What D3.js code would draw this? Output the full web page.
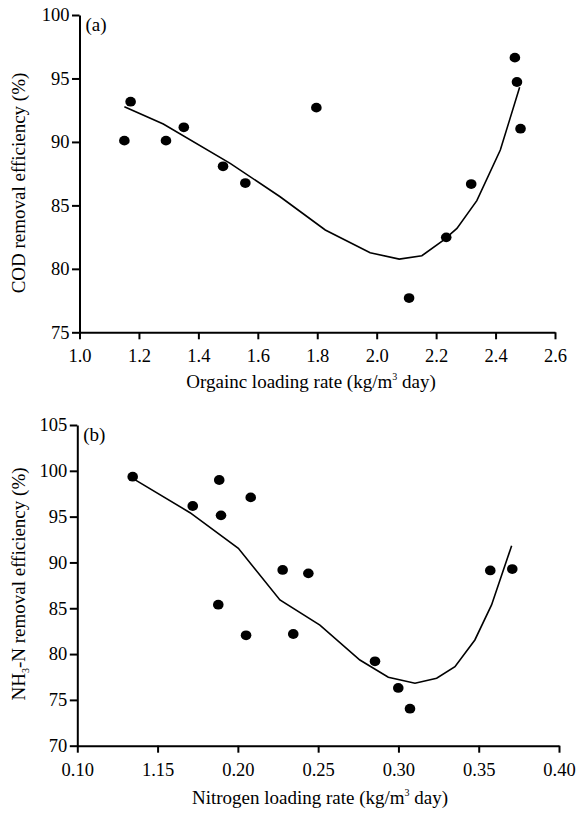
<!DOCTYPE html>
<html>
<head>
<meta charset="utf-8">
<script src="https://cdn.jsdelivr.net/npm/d3@7"></script>
<style>
  body { margin: 0; background: #fff; }
  .axis path, .axis line { stroke: #000; stroke-width: 2; }
</style>
</head>
<body>
<div id="chart"></div>
<script>
// panel (a): COD
const codX = [1.151, 1.172, 1.291, 1.351, 1.483, 1.558, 1.797, 2.109, 2.234, 2.318, 2.465, 2.472, 2.484];
const codY = [90.1, 93.17, 90.1, 91.15, 88.08, 86.76, 92.7, 77.7, 82.48, 86.68, 96.64, 94.72, 91.04];
const codFitX = [1.151, 1.282, 1.507, 1.675, 1.827, 1.978, 2.076, 2.152, 2.225, 2.27, 2.337, 2.416, 2.481];
const codFitY = [92.77, 91.41, 88.31, 85.68, 83.06, 81.27, 80.77, 81.03, 82.27, 83.19, 85.37, 89.36, 94.3];
const codXTicks = [1.0, 1.2, 1.4, 1.6, 1.8, 2.0, 2.2, 2.4, 2.6];
const codXTickLabels = ['1.0', '1.2', '1.4', '1.6', '1.8', '2.0', '2.2', '2.4', '2.6'];
const codYTicks = [75, 80, 85, 90, 95, 100];

// panel (b): NH3-N
const nhX = [0.1345, 0.1719, 0.1878, 0.1884, 0.1895, 0.208, 0.2051, 0.2279, 0.2345, 0.2439, 0.2854, 0.2999, 0.3072, 0.3572, 0.3709];
const nhY = [99.36, 96.16, 85.39, 99.0, 95.14, 97.1, 82.05, 89.18, 82.19, 88.81, 79.21, 76.3, 74.04, 89.13, 89.28];
const nhFitX = [0.1345, 0.1702, 0.2003, 0.2262, 0.2511, 0.276, 0.2937, 0.3103, 0.3238, 0.3352, 0.3476, 0.358, 0.3705];
const nhFitY = [99.18, 95.43, 91.54, 85.9, 83.17, 79.35, 77.47, 76.81, 77.36, 78.62, 81.54, 85.36, 91.83];
const nhXTicks = [0.10, 0.15, 0.20, 0.25, 0.30, 0.35, 0.40];
const nhXTickLabels = ['0.10', '1.15', '0.20', '0.25', '0.30', '0.35', '0.40'];
const nhYTicks = [70, 75, 80, 85, 90, 95, 100, 105];

const width = 581, height = 813;
const serif = "'Liberation Serif', 'Times New Roman', Times, 'DejaVu Serif', serif";

const svg = d3.select('#chart').append('svg')
    .attr('width', width)
    .attr('height', height)
    .style('display', 'block');

function drawPanel(cfg) {
  const x = d3.scaleLinear().domain(cfg.xDomain).range(cfg.xRange);
  const y = d3.scaleLinear().domain(cfg.yDomain).range(cfg.yRange);
  const g = svg.append('g');

  const xAxis = g.append('g')
      .attr('class', 'axis')
      .attr('transform', `translate(0,${cfg.yRange[0]})`)
      .call(d3.axisBottom(x).tickValues(cfg.xTicks)
        .tickFormat((d, i) => cfg.xTickLabels[i])
        .tickSize(7).tickSizeOuter(0).tickPadding(10));

  const yAxis = g.append('g')
      .attr('class', 'axis')
      .attr('transform', `translate(${cfg.xRange[0]},0)`)
      .call(d3.axisLeft(y).tickValues(cfg.yTicks)
        .tickSize(7.5).tickSizeOuter(0).tickPadding(2.5));

  [xAxis, yAxis].forEach(a => a
      .attr('font-family', serif)
      .attr('font-size', 18.5)
    .selectAll('text')
      .attr('fill', '#000'));

  // fitted curve
  const fit = cfg.fitX.map((d, i) => [d, cfg.fitY[i]]);
  g.append('path')
      .datum(fit)
      .attr('fill', 'none')
      .attr('stroke', '#000')
      .attr('stroke-width', 1.6)
      .attr('d', d3.line().x(d => x(d[0])).y(d => y(d[1])));

  // data points
  g.selectAll('.dot')
      .data(cfg.px.map((d, i) => [d, cfg.py[i]]))
    .join('ellipse')
      .attr('class', 'dot')
      .attr('cx', d => x(d[0]))
      .attr('cy', d => y(d[1]))
      .attr('rx', 5.3)
      .attr('ry', 4.9)
      .attr('fill', '#000');

  // panel tag
  g.append('text')
      .attr('font-family', serif)
      .attr('font-size', 19)
      .attr('x', cfg.xRange[0] + 6)
      .attr('y', cfg.yRange[1] + 16)
      .text(cfg.tag);

  // x title
  const xt = g.append('text')
      .attr('font-family', serif)
      .attr('font-size', 19)
      .attr('text-anchor', 'middle')
      .attr('x', cfg.xTitleX)
      .attr('y', cfg.xTitleY);
  xt.append('tspan').text(cfg.xTitle[0]);
  xt.append('tspan').attr('font-size', 10).attr('dy', -8).text('3');
  xt.append('tspan').attr('dy', 8).text(cfg.xTitle[1]);

  // y title
  const yt = g.append('text')
      .attr('font-family', serif)
      .attr('font-size', 19)
      .attr('text-anchor', 'middle')
      .attr('transform', `translate(${cfg.yTitleX},${cfg.yTitleY}) rotate(-90)`);
  if (cfg.ySub) {
    yt.append('tspan').text(cfg.yTitle[0]);
    yt.append('tspan').attr('font-size', 10).attr('dy', 4).text('3');
    yt.append('tspan').attr('dy', -4).text(cfg.yTitle[1]);
  } else {
    yt.text(cfg.yTitle[0]);
  }
}

drawPanel({
  xDomain: [1.0, 2.6], xRange: [79.5, 555],
  yDomain: [75, 100], yRange: [332.3, 15],
  xTicks: codXTicks, xTickLabels: codXTickLabels, yTicks: codYTicks,
  fitX: codFitX, fitY: codFitY, px: codX, py: codY,
  tag: '(a)',
  xTitle: ['Orgainc loading rate (kg/m', ' day)'], xTitleX: 311, xTitleY: 388,
  yTitle: ['COD removal efficiency (%)'], yTitleX: 25, yTitleY: 183
});

drawPanel({
  xDomain: [0.10, 0.40], xRange: [77.3, 559],
  yDomain: [70, 105], yRange: [745.7, 425],
  xTicks: nhXTicks, xTickLabels: nhXTickLabels, yTicks: nhYTicks,
  fitX: nhFitX, fitY: nhFitY, px: nhX, py: nhY,
  tag: '(b)',
  xTitle: ['Nitrogen loading rate (kg/m', ' day)'], xTitleX: 320, xTitleY: 804,
  yTitle: ['NH', '-N removal efficiency (%)'], ySub: true, yTitleX: 25, yTitleY: 584
});
</script>
</body>
</html>
